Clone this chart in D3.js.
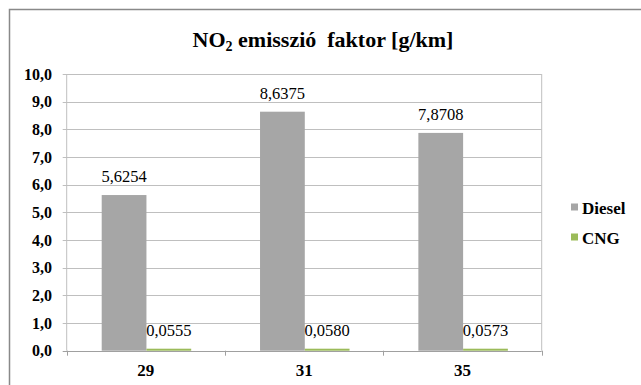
<!DOCTYPE html>
<html>
<head>
<meta charset="utf-8">
<script src="https://cdn.jsdelivr.net/npm/d3@7"></script>
<style>
  html, body { margin: 0; padding: 0; background: #fff; }
  svg { display: block; }
  svg text { font-family: "Liberation Serif", Tinos, "Times New Roman", Times, "DejaVu Serif", serif; }
</style>
</head>
<body>
<svg id="chart" width="641" height="385"></svg>
<script>
// Chart data
const categories = ["29", "31", "35"];
const seriesNames = ["Diesel", "CNG"];
const dieselValues = [5.6254, 8.6375, 7.8708];
const cngValues = [0.0555, 0.0580, 0.0573];
const valueLabels = {
  Diesel: ["5,6254", "8,6375", "7,8708"],
  CNG: ["0,0555", "0,0580", "0,0573"]
};
const yTicks = [0, 1, 2, 3, 4, 5, 6, 7, 8, 9, 10];
const colors = { Diesel: "#a6a6a6", CNG: "#9bbb59" };

const FONT = '"Liberation Serif", Tinos, "Times New Roman", Times, "DejaVu Serif", serif';

const svg = d3.select("#chart");
const W = 641, H = 385;

// Outer chart frame
svg.append("rect")
  .attr("x", 9.5).attr("y", 9.5)
  .attr("width", W + 10).attr("height", H + 10)
  .attr("fill", "#fff")
  .attr("stroke", "#898989")
  .attr("stroke-width", 1.5);

// Title with subscript
const title = svg.append("text")
  .attr("x", 323).attr("y", 47)
  .attr("text-anchor", "middle")
  .attr("font-family", FONT)
  .attr("font-size", 22)
  .attr("font-weight", "bold")
  .attr("fill", "#000");
title.append("tspan").text("NO");
title.append("tspan").attr("font-size", 14).attr("dy", 4).text("2");
title.append("tspan").attr("dy", -4).text(" emisszió\u00a0 faktor [g/km]");

const plot = { left: 66.7, right: 541.7, top: 74, bottom: 350.7 };

const x0 = d3.scaleBand()
  .domain(categories)
  .range([plot.left, plot.right])
  .paddingInner(0)
  .paddingOuter(0);

const x1 = d3.scaleBand()
  .domain(seriesNames)
  .range([35, 35 + 89.5]);

const y = d3.scaleLinear()
  .domain([0, 10])
  .range([plot.bottom, plot.top]);

const fmt = v => d3.format(".1f")(v).replace(".", ",");

// Horizontal gridlines with short outside ticks
svg.append("g")
  .selectAll("line")
  .data(yTicks)
  .join("line")
  .attr("x1", plot.left - 4)
  .attr("x2", plot.right)
  .attr("y1", d => Math.round(y(d)) + 0.5)
  .attr("y2", d => Math.round(y(d)) + 0.5)
  .attr("stroke", d => d === 0 ? "#a0a0a0" : "#bfbfbf")
  .attr("stroke-width", 1);

// Y axis line and right edge of plot
svg.append("line")
  .attr("x1", plot.left).attr("x2", plot.left)
  .attr("y1", plot.top).attr("y2", plot.bottom)
  .attr("stroke", "#bfbfbf");
svg.append("line")
  .attr("x1", plot.right).attr("x2", plot.right)
  .attr("y1", plot.top).attr("y2", plot.bottom)
  .attr("stroke", "#bfbfbf");

// Category boundary ticks below the x axis
const boundaries = categories.map(c => x0(c)).concat([plot.right]);
svg.append("g")
  .selectAll("line")
  .data(boundaries)
  .join("line")
  .attr("x1", d => Math.round(d) + 0.5)
  .attr("x2", d => Math.round(d) + 0.5)
  .attr("y1", plot.bottom)
  .attr("y2", plot.bottom + 5)
  .attr("stroke", "#a0a0a0");

// Y tick labels
svg.append("g")
  .selectAll("text")
  .data(yTicks)
  .join("text")
  .attr("x", 52)
  .attr("y", d => y(d) + 5.5)
  .attr("text-anchor", "end")
  .attr("font-family", FONT)
  .attr("font-size", 16)
  .attr("font-weight", "bold")
  .attr("fill", "#000")
  .text(fmt);

// X category labels
svg.append("g")
  .selectAll("text")
  .data(categories)
  .join("text")
  .attr("x", d => x0(d) + x0.bandwidth() / 2)
  .attr("y", 376)
  .attr("text-anchor", "middle")
  .attr("font-family", FONT)
  .attr("font-size", 17)
  .attr("font-weight", "bold")
  .attr("fill", "#000")
  .text(d => d);

// Bars
const rows = categories.map((c, i) => ({
  cat: c,
  items: [
    { series: "Diesel", value: dieselValues[i], label: valueLabels.Diesel[i] },
    { series: "CNG", value: cngValues[i], label: valueLabels.CNG[i] }
  ]
}));

const groups = svg.append("g")
  .selectAll("g")
  .data(rows)
  .join("g")
  .attr("transform", d => `translate(${x0(d.cat)},0)`);

groups.selectAll("rect")
  .data(d => d.items)
  .join("rect")
  .attr("x", d => x1(d.series))
  .attr("width", x1.bandwidth())
  .attr("y", d => Math.min(y(d.value), plot.bottom - 2))
  .attr("height", d => Math.max(plot.bottom - y(d.value), 2))
  .attr("fill", d => colors[d.series]);

// Value labels
groups.selectAll("text")
  .data(d => d.items)
  .join("text")
  .attr("x", d => x1(d.series) + x1.bandwidth() / 2)
  .attr("y", d => y(d.value) - 13)
  .attr("text-anchor", "middle")
  .attr("font-family", FONT)
  .attr("font-size", 16.5)
  .attr("fill", "#000")
  .text(d => d.label);

// Legend
const legend = svg.append("g")
  .selectAll("g")
  .data(seriesNames)
  .join("g")
  .attr("transform", (d, i) => `translate(571,${203.5 + i * 30})`);
legend.append("rect")
  .attr("width", 7).attr("height", 7)
  .attr("fill", d => colors[d]);
legend.append("text")
  .attr("x", 11)
  .attr("y", 10.5)
  .attr("font-family", FONT)
  .attr("font-size", 17)
  .attr("font-weight", "bold")
  .attr("fill", "#000")
  .text(d => d);
</script>
</body>
</html>
